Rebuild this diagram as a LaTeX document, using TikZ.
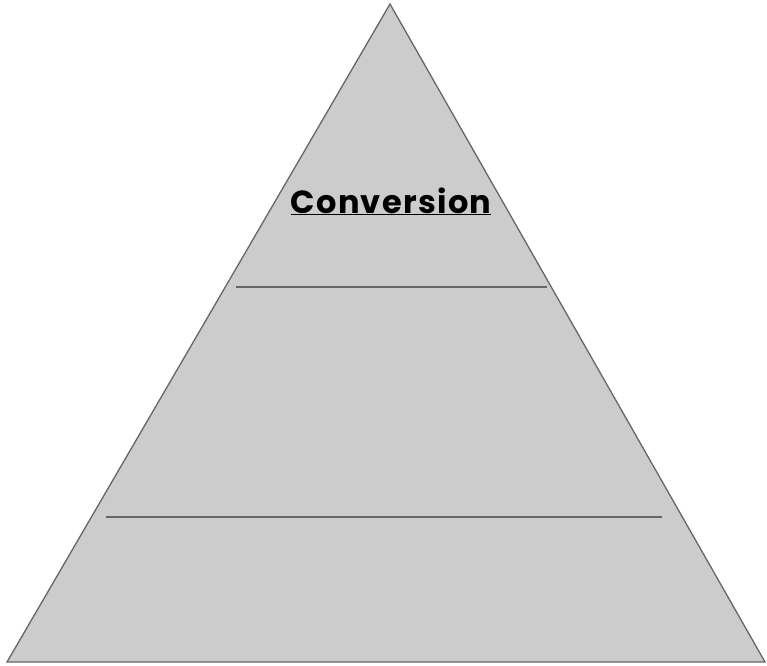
\documentclass[tikz,border=0pt]{standalone}
\usepackage{fontspec}
\setmainfont{Poppins}
\begin{document}
\begin{tikzpicture}[x=1pt,y=-1pt,
  edge/.style={draw=black!60, line width=1.3pt},
  label/.style={font=\fontsize{32}{36}\selectfont\bfseries\addfontfeatures{LetterSpace=4}, text=black, inner sep=0pt, anchor=base}]
\useasboundingbox (0,0) rectangle (767,665);
\coordinate (apex) at (390,4);
\coordinate (bl) at (7,662);
\coordinate (br) at (765,662);
\path[fill=black!20, edge] (apex) -- (br) -- (bl) -- cycle;
\coordinate (l1a) at (236,287);
\coordinate (l1b) at (547,287);
\coordinate (l2a) at (106,517);
\coordinate (l2b) at (662,517);
\draw[edge] (l1a) -- (l1b);
\draw[edge] (l2a) -- (l2b);
\node[label] (conv) at (391,213) {\underline{Conversion}};
\end{tikzpicture}
\end{document}
